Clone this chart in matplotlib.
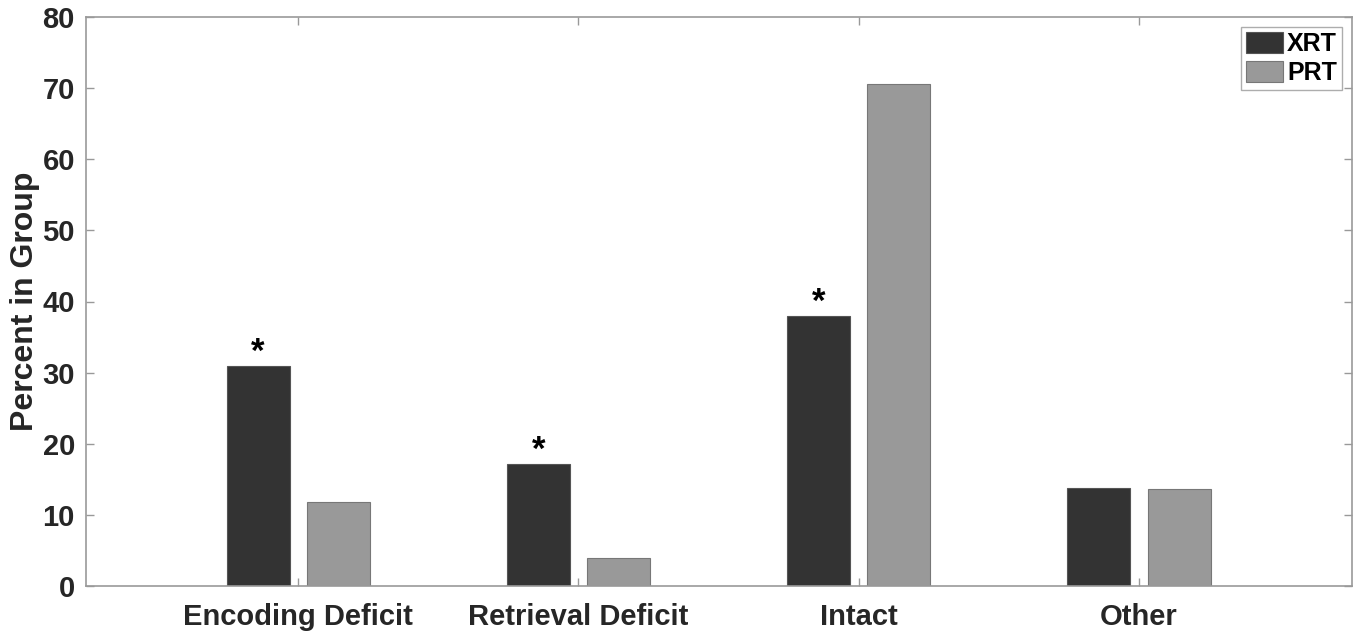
import numpy as np
import matplotlib.pyplot as plt

# Memory profile percentages per treatment group
categories = ['Encoding Deficit', 'Retrieval Deficit', 'Intact', 'Other']
xrt = [31.0, 17.2, 38.0, 13.8]
prt = [11.8, 3.9, 70.6, 13.7]
significant = [True, True, True, False]

plt.rcParams['font.family'] = ['Liberation Sans', 'DejaVu Sans']
plt.rcParams['font.weight'] = 'bold'

fig = plt.figure(figsize=(13.6, 6.33), dpi=100)
ax = fig.add_axes([86 / 1360, 1 - 586 / 633, (1352 - 86) / 1360, (586 - 17) / 633])

x = np.arange(1, len(categories) + 1)
width = 0.225
offset = 0.143
ax.bar(x - offset, xrt, width, color='#333333', edgecolor='#555555', linewidth=0.8, label='XRT')
ax.bar(x + offset, prt, width, color='#999999', edgecolor='#777777', linewidth=0.8, label='PRT')

for xi, v, sig in zip(x, xrt, significant):
    if sig:
        ax.text(xi - offset, v - 0.5, '*', ha='center', va='bottom', fontsize=25, color='black')

ax.set_xlim(0.243, 4.76)
ax.set_ylim(0, 80)
ax.set_yticks(np.arange(0, 81, 10))
ax.set_xticks(x)
ax.set_xticklabels(categories)
ax.set_ylabel('Percent in Group', fontsize=23, fontweight='bold', color='#262626', labelpad=2)

for spine in ax.spines.values():
    spine.set_color('#999999')
    spine.set_linewidth(1.2)
ax.tick_params(axis='both', direction='in', length=6, width=1, color='#999999',
               labelsize=21, labelcolor='#262626', top=True, right=True, pad=8)
ax.tick_params(axis='x', pad=12)
for lbl in ax.get_xticklabels() + ax.get_yticklabels():
    lbl.set_fontweight('bold')

leg = ax.legend(loc='upper right', fontsize=18, frameon=True, fancybox=False,
                handlelength=1.5, handleheight=0.9, handletextpad=0.15,
                borderpad=0.2, labelspacing=0.2, borderaxespad=0.4)
leg.get_frame().set_edgecolor('#999999')
leg.get_frame().set_linewidth(1.0)
for t in leg.get_texts():
    t.set_fontweight('bold')

fig.savefig('out.png', dpi=100)
